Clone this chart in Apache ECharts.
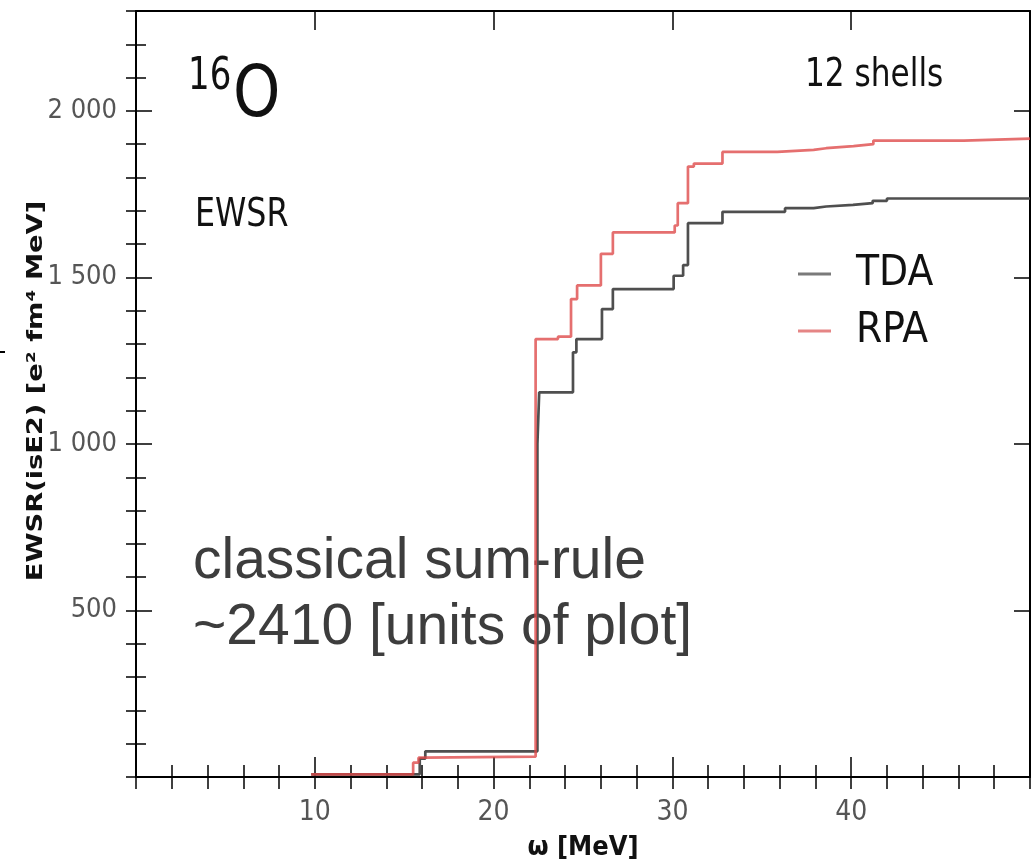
<!DOCTYPE html>
<html>
<head>
<meta charset="utf-8">
<script src="https://cdn.jsdelivr.net/npm/echarts@6/dist/echarts.min.js"></script>
<style>
  html, body { margin: 0; padding: 0; background: #fff; }
  #chart { width: 1033px; height: 866px; }
</style>
</head>
<body>
<div id="chart"></div>
<script>
// Cumulative isoscalar E2 energy-weighted sum rule for 16O (12 oscillator shells).
// Each pair is (excitation energy where the sum steps up, new running sum).
const tdaOmega = [9.8, 15.87, 16.18, 22.45, 22.55, 24.44, 24.63, 26.06, 26.67, 30.07, 30.6, 30.87, 32.8, 36.3, 37.9, 38.6, 40.1, 41.2, 42.0, 50];
const tdaEwsr  = [8, 55, 77, 1000, 1155, 1275, 1315, 1405, 1465, 1505, 1537, 1663, 1697, 1708, 1713, 1718, 1723, 1730, 1737, 1737];

const rpaOmega = [9.8, 15.5, 15.8, 16.15, 22.35, 23.6, 24.33, 24.67, 26.0, 26.67, 30.13, 30.3, 30.87, 31.2, 32.8, 35.87, 37.9, 38.6, 40.13, 41.24, 46.3, 50];
const rpaEwsr  = [8, 43, 58, 61, 1315, 1322, 1435, 1476, 1571, 1635, 1656, 1723, 1833, 1842, 1877, 1883, 1888, 1894, 1900, 1911, 1917, 1917];

const xTickLabels = [10, 20, 30, 40];
const yTickLabels = [500, 1000, 1500, 2000];

const pairs = (xs, ys) => xs.map((x, i) => [x, ys[i]]);
const narrow = "'DejaVu Sans Condensed', 'DejaVu Sans', sans-serif";

function groupThousands(v) {
  const s = String(v);
  return s.length > 3 ? s.slice(0, s.length - 3) + ' ' + s.slice(-3) : s;
}

const X_MIN = 0, X_MAX = 50, Y_MIN = 0, Y_MAX = 2300;

function xAxisDef(position, interval, tickLen, opts) {
  return Object.assign({
    type: 'value', position, min: X_MIN, max: X_MAX, interval,
    axisLine: { show: false },
    axisTick: { show: true, inside: true, length: tickLen, lineStyle: { color: '#000', width: 1.5 } },
    axisLabel: { show: false },
    splitLine: { show: false }
  }, opts || {});
}
function yAxisDef(position, interval, tickLen, opts) {
  return Object.assign({
    type: 'value', position, min: Y_MIN, max: Y_MAX, interval,
    axisLine: { show: false },
    axisTick: { show: true, inside: true, length: tickLen, lineStyle: { color: '#000', width: 1.5 } },
    axisLabel: { show: false },
    splitLine: { show: false }
  }, opts || {});
}

// plain text placed in pixel space, squeezed horizontally like the rest of the lettering
function label(text, x, y, size, sx, extra) {
  return Object.assign({
    type: 'text', x, y, scaleX: sx,
    style: { text, fontFamily: narrow, fontSize: size, fill: '#111', align: 'left', verticalAlign: 'middle' }
  }, extra || {});
}

const chart = echarts.init(document.getElementById('chart'), null, { renderer: 'canvas' });

chart.setOption({
  animation: false,
  backgroundColor: '#fff',
  grid: { left: 136, top: 11, width: 900, height: 767, containLabel: false },
  xAxis: [
    xAxisDef('bottom', 10, 20, {
      axisLine: { show: true, onZero: false, lineStyle: { color: '#000', width: 2 } },
      axisLabel: {
        show: true, margin: 22, fontSize: 28, color: '#555', fontFamily: narrow,
        formatter: v => (xTickLabels.indexOf(v) >= 0 ? String(v) : '')
      },
      name: 'ω [MeV]', nameLocation: 'middle', nameGap: 57,
      nameTextStyle: { fontSize: 27, fontWeight: 'bold', color: '#111', fontFamily: narrow }
    }),
    xAxisDef('bottom', 2, 12),
    xAxisDef('top', 10, 19, { axisLine: { show: true, onZero: false, lineStyle: { color: '#000', width: 2 } } }),
    xAxisDef('top', 2, 12)
  ],
  yAxis: [
    yAxisDef('left', 500, 16, {
      axisLine: { show: true, onZero: false, lineStyle: { color: '#000', width: 2 } },
      axisLabel: {
        show: true, margin: 19, fontSize: 27, color: '#555', fontFamily: narrow,
        formatter: v => (yTickLabels.indexOf(v) >= 0 ? groupThousands(v) : '')
      }
    }),
    yAxisDef('left', 100, 10),
    yAxisDef('right', 500, 16, { axisLine: { show: true, onZero: false, lineStyle: { color: '#000', width: 2 } } }),
    yAxisDef('right', 100, 10)
  ],
  legend: {
    orient: 'vertical', left: 793, top: 245, itemGap: 9,
    itemWidth: 33, itemHeight: 3, icon: 'rect',
    textStyle: { fontSize: 42, color: '#111', fontFamily: narrow, padding: [0, 0, 0, 20], lineHeight: 48 },
    data: [
      { name: 'TDA', itemStyle: { color: '#7a7a7a' } },
      { name: 'RPA', itemStyle: { color: '#e58585' } }
    ]
  },
  series: [
    {
      name: 'TDA', type: 'line', step: 'end', xAxisIndex: 0, yAxisIndex: 0,
      showSymbol: false, symbol: 'none', z: 3,
      lineStyle: { color: '#4f4f4f', width: 2.7 }, itemStyle: { color: '#4f4f4f' },
      data: pairs(tdaOmega, tdaEwsr)
    },
    {
      name: 'RPA', type: 'line', step: 'end', xAxisIndex: 0, yAxisIndex: 0,
      showSymbol: false, symbol: 'none', z: 4,
      lineStyle: { color: 'rgba(222,70,70,0.78)', width: 2.7 }, itemStyle: { color: '#e05a5a' },
      data: pairs(rpaOmega, rpaEwsr)
    }
  ],
  graphic: [
    {
      type: 'text', x: 36, y: 391, rotation: Math.PI / 2, scaleX: 1.24,
      style: {
        text: 'EWSR(isE2) [e² fm⁴ MeV]', fontFamily: 'DejaVu Sans', fontWeight: 'bold', fontSize: 22,
        fill: '#111', align: 'center', verticalAlign: 'middle'
      }
    },
    label('16', 188, 77, 45, 0.84),
    label('O', 233, 97, 72, 0.93),
    label('EWSR', 195, 216, 38.5, 0.915),
    label('12 shells', 805, 76, 38.5, 0.9),
    {
      type: 'text', x: 193, y: 562,
      style: { text: 'classical sum-rule', fontFamily: 'Liberation Sans', fontSize: 57, fill: '#3d3d3d', align: 'left', verticalAlign: 'middle' }
    },
    {
      type: 'text', x: 193, y: 628,
      style: { text: '~2410 [units of plot]', fontFamily: 'Liberation Sans', fontSize: 57, fill: '#3d3d3d', align: 'left', verticalAlign: 'middle' }
    },
    { type: 'line', shape: { x1: 0, y1: 352, x2: 5, y2: 352 }, style: { stroke: '#000', lineWidth: 2 } }
  ]
});
</script>
</body>
</html>
